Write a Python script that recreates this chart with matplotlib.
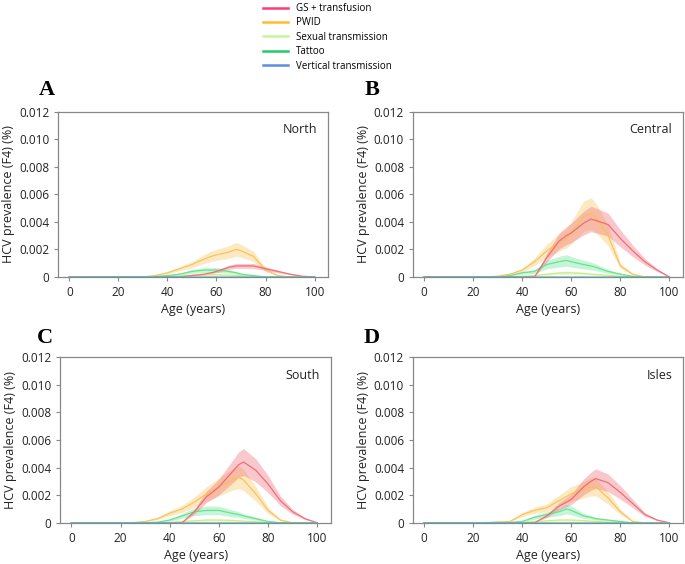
import matplotlib
matplotlib.use("Agg")
import matplotlib.pyplot as plt
import numpy as np
from matplotlib.lines import Line2D

# életkorok (év)
ages = [0, 20, 25, 30, 35, 40, 45, 50, 55, 58, 60, 65, 68, 70, 75, 80, 85, 90, 95, 100]

series_names = ["GS + transfusion", "PWID", "Sexual transmission", "Tattoo", "Vertical transmission"]
series_colors = ["#ff3a78", "#ffbd2e", "#c8f59a", "#22cc66", "#5b8ede"]
line_colors = ["#f06470", "#f8c050", "#c8ec80", "#5ce28a", "#40c8d8"]
band_frac = [0.22, 0.25, 0.4, 0.35, 0.5]  # a sáv relatív félszélessége

region_names = ["North", "Central", "South", "Isles"]
panel_letters = ["A", "B", "C", "D"]

north_gs = [0, 0, 0, 0, 0, 0, 0, 0.0001, 0.0002, 0.0003, 0.0004, 0.0007, 0.0008, 0.0008, 0.0008, 0.0006, 0.0004, 0.0002, 0.00005, 0]
north_pwid = [0, 0, 0, 0, 0.0001, 0.0003, 0.0006, 0.0009, 0.0013, 0.0015, 0.0016, 0.0018, 0.002, 0.0019, 0.0015, 0.0005, 0.0001, 0, 0, 0]
north_sex = [0, 0, 0, 0, 0, 0.00003, 0.00008, 0.00012, 0.00015, 0.00016, 0.00016, 0.00013, 0.0001, 0.00008, 0.00004, 0.00001, 0, 0, 0, 0]
north_tattoo = [0, 0, 0, 0, 0.00003, 0.0001, 0.0002, 0.0004, 0.0005, 0.0005, 0.0005, 0.0004, 0.0003, 0.0002, 0.0001, 0, 0, 0, 0, 0]
north_vert = [0, 0.00001, 0.00002, 0.00002, 0.00001, 0, 0, 0, 0, 0, 0, 0, 0, 0, 0, 0, 0, 0, 0, 0]

central_gs = [0, 0, 0, 0, 0, 0, 0, 0.0014, 0.0026, 0.003, 0.0032, 0.0039, 0.0042, 0.0041, 0.0038, 0.0028, 0.0019, 0.0011, 0.0005, 0]
central_pwid = [0, 0, 0, 0.00005, 0.0002, 0.0005, 0.0011, 0.0019, 0.0025, 0.0028, 0.0032, 0.0044, 0.0046, 0.0043, 0.003, 0.0008, 0.0002, 0, 0, 0]
central_sex = [0, 0, 0, 0, 0, 0.00005, 0.0001, 0.0002, 0.00028, 0.0003, 0.0003, 0.00025, 0.0002, 0.00018, 0.00012, 0.00006, 0.00002, 0, 0, 0]
central_tattoo = [0, 0, 0, 0, 0.0001, 0.0003, 0.0004, 0.0009, 0.0011, 0.0012, 0.0011, 0.0009, 0.0008, 0.0007, 0.0004, 0.0002, 0.00005, 0, 0, 0]
central_vert = [0, 0.00001, 0.00002, 0.00002, 0.00001, 0, 0, 0, 0, 0, 0, 0, 0, 0, 0, 0, 0, 0, 0, 0]

south_gs = [0, 0, 0, 0, 0, 0, 0, 0.0008, 0.0019, 0.0023, 0.0026, 0.0036, 0.0042, 0.0044, 0.0038, 0.0028, 0.0016, 0.0008, 0.0003, 0]
south_pwid = [0, 0, 0, 0.0001, 0.0003, 0.0007, 0.001, 0.0015, 0.0021, 0.0024, 0.0026, 0.0031, 0.0033, 0.0031, 0.0021, 0.0009, 0.0002, 0, 0, 0]
south_sex = [0, 0, 0, 0, 0, 0.00004, 0.0001, 0.00015, 0.0002, 0.0002, 0.0002, 0.00018, 0.00015, 0.00012, 0.00008, 0.00004, 0.00001, 0, 0, 0]
south_tattoo = [0, 0, 0, 0, 0.00005, 0.0002, 0.0005, 0.0008, 0.0009, 0.0009, 0.0009, 0.0007, 0.0006, 0.0005, 0.0003, 0.0001, 0, 0, 0, 0]
south_vert = [0, 0.00001, 0.00002, 0.00002, 0.00001, 0, 0, 0, 0, 0, 0, 0, 0, 0, 0, 0, 0, 0, 0, 0]

isles_gs = [0, 0, 0, 0, 0, 0, 0, 0.0005, 0.0012, 0.0015, 0.0017, 0.0026, 0.003, 0.0032, 0.0029, 0.0022, 0.0014, 0.0006, 0.0002, 0]
isles_pwid = [0, 0, 0, 0.00005, 0.0001, 0.0006, 0.0009, 0.0011, 0.0016, 0.0019, 0.0021, 0.0024, 0.0026, 0.0026, 0.0018, 0.0008, 0.0001, 0, 0, 0]
isles_sex = [0, 0, 0, 0, 0, 0.00004, 0.0001, 0.00015, 0.0002, 0.0002, 0.0002, 0.00016, 0.00013, 0.0001, 0.00006, 0.00003, 0, 0, 0, 0]
isles_tattoo = [0, 0, 0, 0, 0.00003, 0.0001, 0.0004, 0.0006, 0.0008, 0.001, 0.0009, 0.0005, 0.0004, 0.0003, 0.0002, 0.0001, 0, 0, 0, 0]
isles_vert = [0, 0.00001, 0.00002, 0.00003, 0.00001, 0, 0, 0, 0, 0, 0, 0, 0, 0, 0, 0, 0, 0, 0, 0]

panel_data = [
    [north_gs, north_pwid, north_sex, north_tattoo, north_vert],
    [central_gs, central_pwid, central_sex, central_tattoo, central_vert],
    [south_gs, south_pwid, south_sex, south_tattoo, south_vert],
    [isles_gs, isles_pwid, isles_sex, isles_tattoo, isles_vert],
]

plt.rcParams['font.family'] = ['Open Sans', 'DejaVu Sans']

fig = plt.figure(figsize=(6.85, 5.64), dpi=100)

# tengelyek helye (bal, alsó, szélesség, magasság) ábra-arányban
axes_pos = [
    [0.085, 0.509, 0.394, 0.293],
    [0.603, 0.509, 0.394, 0.293],
    [0.088, 0.073, 0.395, 0.294],
    [0.603, 0.073, 0.394, 0.294],
]
letter_pos = [(0.068, 0.84), (0.543, 0.84), (0.066, 0.40), (0.543, 0.40)]

grey = "#888888"
x = np.array(ages)
for idx, pos in enumerate(axes_pos):
    ax = fig.add_axes(pos)
    # a sávokat előbb rajzolja, a vonalakat utána
    order = [2, 3, 1, 0, 4]
    for s in order:
        y = np.array(panel_data[idx][s])
        half = y * band_frac[s]
        ax.fill_between(x, y - half, y + half, color=line_colors[s], alpha=0.35, linewidth=0)
    for s in order:
        y = np.array(panel_data[idx][s])
        ax.plot(x, y, color=line_colors[s], linewidth=0.9, alpha=0.9)

    ax.set_xlim(-4.5, 105.5)
    ax.set_ylim(0, 0.012)
    ax.set_xticks([0, 20, 40, 60, 80, 100])
    ax.set_yticks([0, 0.002, 0.004, 0.006, 0.008, 0.010, 0.012])
    ax.set_yticklabels(["0", "0.002", "0.004", "0.006", "0.008", "0.010", "0.012"])
    ax.tick_params(labelsize=8.5, colors=grey, labelcolor="#222222", length=3, width=0.8)
    for sp in ax.spines.values():
        sp.set_color(grey)
        sp.set_linewidth(0.9)
    ax.set_xlabel("Age (years)", fontsize=9, color="#222222", labelpad=3)
    ax.set_ylabel("HCV prevalence (F4) (%)", fontsize=9, color="#222222", labelpad=3)
    ax.text(0.96, 0.93, region_names[idx], transform=ax.transAxes, ha="right", va="top",
            fontsize=9, color="#222222")
    fig.text(letter_pos[idx][0], letter_pos[idx][1], panel_letters[idx], fontsize=16,
             fontweight="bold", family="Liberation Serif", ha="center", va="center")

# jelmagyarázat az ábra tetején
handles = [Line2D([0], [0], color=c, linewidth=1.8) for c in series_colors]
fig.legend(handles, series_names, loc="upper left", bbox_to_anchor=(0.375, 1.005),
           frameon=False, fontsize=7, handlelength=2.6, handletextpad=0.8,
           labelspacing=0.35, borderaxespad=0.2)

fig.savefig("out.png", dpi=100)
